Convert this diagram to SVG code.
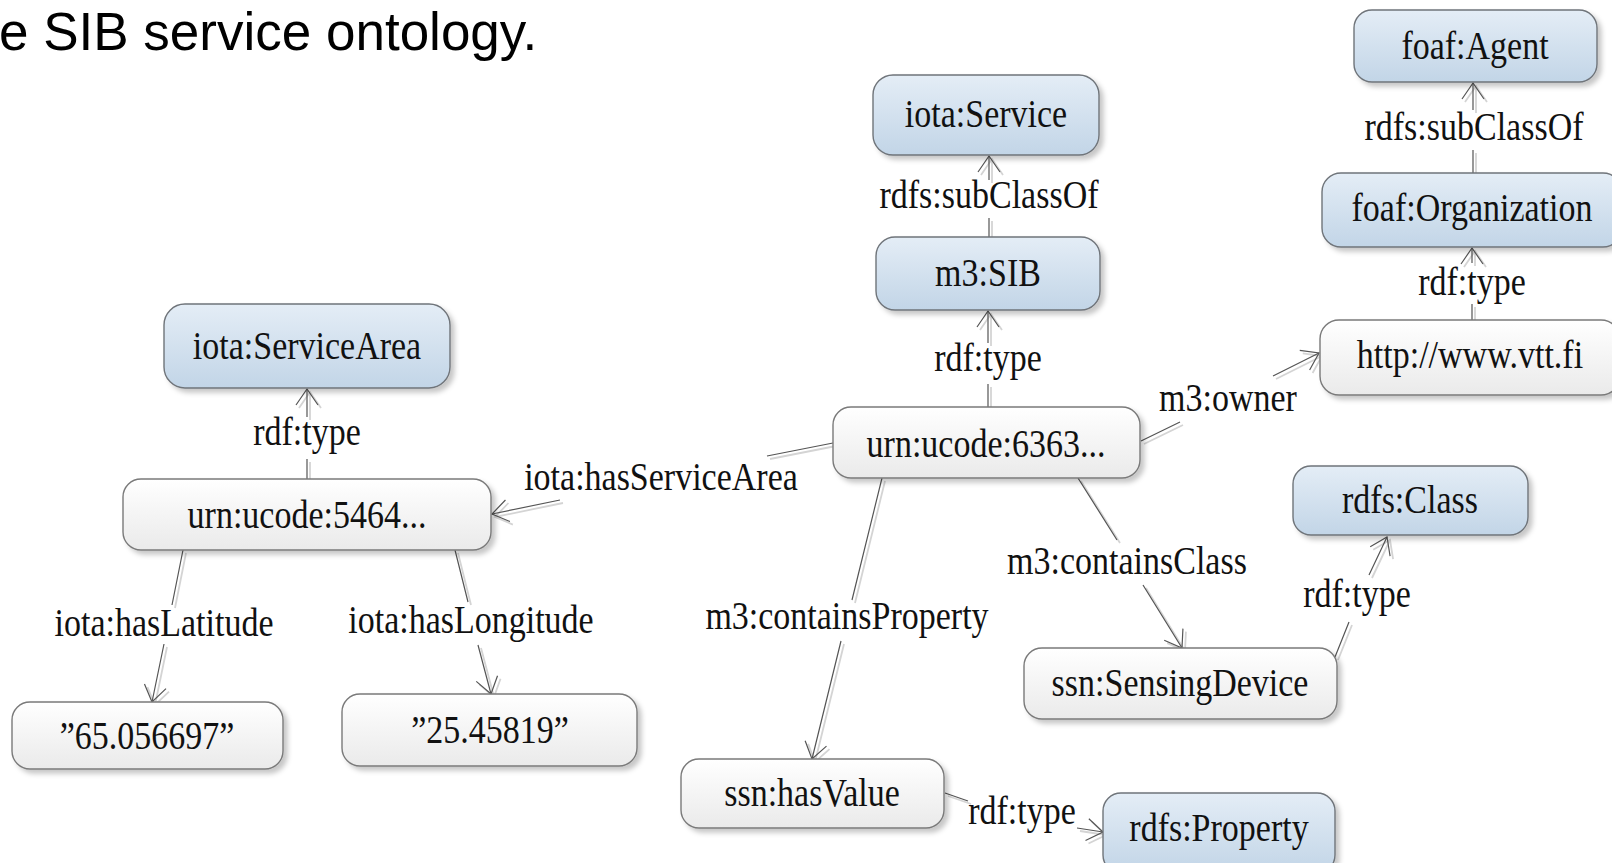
<svg xmlns="http://www.w3.org/2000/svg" width="1612" height="863" viewBox="0 0 1612 863">
<defs>
  <linearGradient id="gBlue" x1="0" y1="0" x2="0" y2="1">
    <stop offset="0" stop-color="#e4edf6"/>
    <stop offset="1" stop-color="#c2d5e7"/>
  </linearGradient>
  <linearGradient id="gWhite" x1="0" y1="0" x2="0" y2="1">
    <stop offset="0" stop-color="#ffffff"/>
    <stop offset="1" stop-color="#eaeaea"/>
  </linearGradient>
  <filter id="sh" x="-10%" y="-20%" width="130%" height="160%">
    <feDropShadow dx="4" dy="4" stdDeviation="2.5" flood-color="#000" flood-opacity="0.22"/>
  </filter>
  <marker id="ah" viewBox="-20 -14 24 28" refX="0" refY="0" markerWidth="24" markerHeight="28" markerUnits="userSpaceOnUse" orient="auto" overflow="visible">
    <path d="M-16,-11 L0,0 L-16,11" fill="none" stroke="#555" stroke-width="1.2"/>
  </marker>
  <marker id="ahL" viewBox="-20 -14 24 28" refX="0" refY="0" markerWidth="24" markerHeight="28" markerUnits="userSpaceOnUse" orient="auto" overflow="visible">
    <path d="M-16,-11 L0,0 L-16,11" fill="none" stroke="#d4d4d4" stroke-width="1.8"/>
  </marker>
</defs>
<style>
  .box { filter: url(#sh); }
  .cls .box { fill: url(#gBlue); stroke: #6f747a; stroke-width: 1.4; }
  .ins .box { fill: url(#gWhite); stroke: #7a7a7a; stroke-width: 1.4; }
  text { font-family: "Liberation Serif", "Times New Roman", serif; font-size: 34px; fill: #111; text-anchor: middle; transform-box: fill-box; transform-origin: center; transform: scaleY(1.18); }
  text.title { font-family: "Liberation Sans", Arial, sans-serif; font-size: 53px; text-anchor: start; transform: none; fill: #000; }
  .edge { fill: none; stroke: #555; stroke-width: 1.2; marker-end: url(#ah); }
  .edgeL { fill: none; stroke: #d4d4d4; stroke-width: 1.8; marker-end: url(#ahL); }
</style>
<rect x="0" y="0" width="1612" height="863" fill="#ffffff"/>
<text class="title" x="-1" y="50">e SIB service ontology.</text>

<g id="connectors">
  <g id="connector-shadows" transform="translate(3,3)">
    <path class="edgeL" d="M989,237 L989,218 M989,180 L989,156"/>
    <path class="edgeL" d="M988,407 L988,384 M988,343 L988,311"/>
    <path class="edgeL" d="M1472,320 L1472,304 M1472,263 L1472,248"/>
    <path class="edgeL" d="M1473,173 L1473,150 M1473,110 L1473,83"/>
    <path class="edgeL" d="M1141,441 L1180,422 M1273,376 L1319,353"/>
    <path class="edgeL" d="M833,443 L767,456 M560,500 L492,514"/>
    <path class="edgeL" d="M882,478 L852,600 M841,641 L812,759"/>
    <path class="edgeL" d="M1078,478 L1117,540 M1143,585 L1182,648"/>
    <path class="edgeL" d="M1335,657 L1349,622 M1369,575 L1387,537"/>
    <path class="edgeL" d="M307,479 L307,459 M307,417 L307,389"/>
    <path class="edgeL" d="M183,550 L172,605 M164,644 L152,702"/>
    <path class="edgeL" d="M455,550 L468,602 M478,645 L491,694"/>
    <path class="edgeL" d="M945,793 L968,801 M1077,828 L1103,832"/>
  </g>
  <g id="connector-lines">
    <path id="e-sib-service" class="edge" d="M989,237 L989,218 M989,180 L989,156"/>
    <path id="e-6363-sib" class="edge" d="M988,407 L988,384 M988,343 L988,311"/>
    <path id="e-vtt-org" class="edge" d="M1472,320 L1472,304 M1472,263 L1472,248"/>
    <path id="e-org-agent" class="edge" d="M1473,173 L1473,150 M1473,110 L1473,83"/>
    <path id="e-6363-vtt" class="edge" d="M1141,441 L1180,422 M1273,376 L1319,353"/>
    <path id="e-6363-5464" class="edge" d="M833,443 L767,456 M560,500 L492,514"/>
    <path id="e-6363-hasvalue" class="edge" d="M882,478 L852,600 M841,641 L812,759"/>
    <path id="e-6363-sensing" class="edge" d="M1078,478 L1117,540 M1143,585 L1182,648"/>
    <path id="e-sensing-class" class="edge" d="M1335,657 L1349,622 M1369,575 L1387,537"/>
    <path id="e-5464-area" class="edge" d="M307,479 L307,459 M307,417 L307,389"/>
    <path id="e-5464-lat" class="edge" d="M183,550 L172,605 M164,644 L152,702"/>
    <path id="e-5464-lon" class="edge" d="M455,550 L468,602 M478,645 L491,694"/>
    <path id="e-hasvalue-property" class="edge" d="M945,793 L968,801 M1077,828 L1103,832"/>
  </g>
  <g id="connector-labels">
    <text x="989" y="206">rdfs:subClassOf</text>
    <text x="988" y="369">rdf:type</text>
    <text x="1472" y="293">rdf:type</text>
    <text x="1474" y="138">rdfs:subClassOf</text>
    <text x="1228" y="409">m3:owner</text>
    <text x="661" y="488">iota:hasServiceArea</text>
    <text x="847" y="627">m3:containsProperty</text>
    <text x="1127" y="572">m3:containsClass</text>
    <text x="1357" y="605">rdf:type</text>
    <text x="307" y="443">rdf:type</text>
    <text x="164" y="634">iota:hasLatitude</text>
    <text x="471" y="631">iota:hasLongitude</text>
    <text x="1022" y="822">rdf:type</text>
  </g>
</g>

<g id="node-iota-service" class="cls">
  <rect class="box" x="873" y="75" width="226" height="80" rx="20"/>
  <text x="986" y="125">iota:Service</text>
</g>
<g id="node-m3-sib" class="cls">
  <rect class="box" x="876" y="237" width="224" height="73" rx="19"/>
  <text x="988" y="284">m3:SIB</text>
</g>
<g id="node-urn-6363" class="ins">
  <rect class="box" x="833" y="407" width="307" height="71" rx="18"/>
  <text x="986" y="455">urn:ucode:6363...</text>
</g>
<g id="node-foaf-agent" class="cls">
  <rect class="box" x="1354" y="10" width="243" height="72" rx="18"/>
  <text x="1475" y="57">foaf:Agent</text>
</g>
<g id="node-foaf-organization" class="cls">
  <rect class="box" x="1322" y="173" width="300" height="74" rx="19"/>
  <text x="1472" y="219">foaf:Organization</text>
</g>
<g id="node-vtt" class="ins">
  <rect class="box" x="1320" y="320" width="300" height="75" rx="19"/>
  <text x="1470" y="366">http://www.vtt.fi</text>
</g>
<g id="node-iota-servicearea" class="cls">
  <rect class="box" x="164" y="304" width="286" height="84" rx="21"/>
  <text x="307" y="357">iota:ServiceArea</text>
</g>
<g id="node-urn-5464" class="ins">
  <rect class="box" x="123" y="479" width="368" height="71" rx="18"/>
  <text x="307" y="526">urn:ucode:5464...</text>
</g>
<g id="node-latitude" class="ins">
  <rect class="box" x="12" y="702" width="271" height="67" rx="18"/>
  <text x="147" y="747">”65.056697”</text>
</g>
<g id="node-longitude" class="ins">
  <rect class="box" x="342" y="694" width="295" height="72" rx="18"/>
  <text x="490" y="741">”25.45819”</text>
</g>
<g id="node-ssn-hasvalue" class="ins">
  <rect class="box" x="681" y="759" width="263" height="69" rx="18"/>
  <text x="812" y="804">ssn:hasValue</text>
</g>
<g id="node-rdfs-property" class="cls">
  <rect class="box" x="1103" y="793" width="232" height="80" rx="18"/>
  <text x="1219" y="839">rdfs:Property</text>
</g>
<g id="node-ssn-sensingdevice" class="ins">
  <rect class="box" x="1024" y="648" width="313" height="71" rx="18"/>
  <text x="1180" y="694">ssn:SensingDevice</text>
</g>
<g id="node-rdfs-class" class="cls">
  <rect class="box" x="1293" y="466" width="235" height="69" rx="18"/>
  <text x="1410" y="511">rdfs:Class</text>
</g>
</svg>
